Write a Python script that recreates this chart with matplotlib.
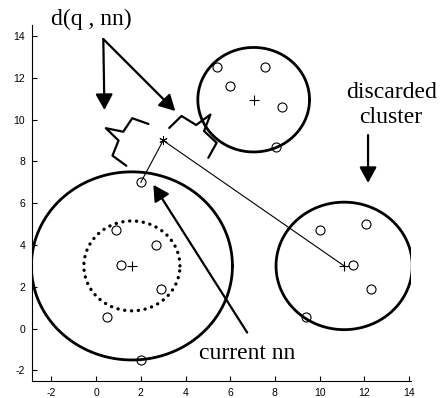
import numpy as np
import matplotlib.pyplot as plt

plt.rcParams['axes.unicode_minus'] = False

# clusters: centre x, centre y, radius
cluster_x = [1.6, 7.05, 11.1]
cluster_y = [3.0, 10.95, 3.0]
cluster_r = [4.5, 2.5, 3.05]
inner_r = 2.15  # dotted circle of the first cluster

# data points
pts_x = [0.9, 2.7, 1.1, 2.9, 0.5, 2.0, 2.0,
         5.4, 6.0, 7.55, 8.3, 8.05,
         10.0, 12.1, 11.5, 12.3, 9.4]
pts_y = [4.7, 4.0, 3.05, 1.9, 0.55, -1.5, 7.0,
         12.5, 11.6, 12.5, 10.6, 8.7,
         4.7, 5.0, 3.05, 1.9, 0.55]

query = (3.0, 9.0)
nn = (2.0, 7.0)

# braces marking d(q, nn): end points and side of the tip
brace_a = [(2.34, 9.79), (3.27, 9.60)]
brace_b = [(1.35, 7.79), (5.02, 8.17)]
brace_side = [-1, 1]

xticks = list(range(-2, 15, 2))
yticks = list(range(-2, 15, 2))

SX, SY = 22.375, 20.94  # pixels per data unit, keeps brace corners square


def brace(p0, p1, side, h=17.0):
    x0, y0 = p0[0] * SX, p0[1] * SY
    x1, y1 = p1[0] * SX, p1[1] * SY
    d = np.array([x1 - x0, y1 - y0])
    L = np.hypot(*d)
    u = d / L
    n = np.array([-u[1], u[0]]) * side
    loc = [(0, 0), (2.5, h), (L / 2 - 5, 1.1 * h), (L / 2, 2.1 * h),
           (L / 2 + 5, 1.1 * h), (L - 2.5, h), (L, 0)]
    xs, ys = [], []
    for a, p in loc:
        q = np.array([x0, y0]) + a * u + p * n
        xs.append(q[0] / SX)
        ys.append(q[1] / SY)
    return xs, ys


fig = plt.figure(figsize=(4.45, 3.98), dpi=100)
ax = fig.add_axes([0.072, 0.043, 0.852, 0.894])

t = np.linspace(0, 2 * np.pi, 400)
for cx, cy, r in zip(cluster_x, cluster_y, cluster_r):
    ax.plot(cx + r * np.cos(t), cy + r * np.sin(t), color='k', lw=2.0)
ax.plot(cluster_x[0] + inner_r * np.cos(t), cluster_y[0] + inner_r * np.sin(t),
        color='k', lw=2.4, ls=(0, (0.05, 2.0)), dash_capstyle='round')
ax.plot(cluster_x, cluster_y, '+', color='k', ms=6.5, mew=0.8)

ax.plot(pts_x, pts_y, 'o', mfc='none', mec='k', ms=6.5, mew=0.8)

# lines from query to nn and to the discarded cluster centre
ax.plot([query[0], nn[0]], [query[1], nn[1]], color='k', lw=0.8)
ax.plot([query[0], cluster_x[2]], [query[1], cluster_y[2]], color='k', lw=0.8)
ax.plot(*query, marker=(6, 2, 0), color='k', ms=6, mew=0.7)

for a, b, s in zip(brace_a, brace_b, brace_side):
    bx, by = brace(a, b, s)
    ax.plot(bx, by, color='k', lw=1.6, solid_joinstyle='round',
            solid_capstyle='round', clip_on=False)

arrow = dict(arrowstyle='-|>,head_length=0.95,head_width=0.52', lw=1.6, color='k',
             shrinkA=0, shrinkB=0)
ax.annotate('', xy=(0.37, 10.46), xytext=(0.32, 13.85), arrowprops=arrow,
            annotation_clip=False)
ax.annotate('', xy=(3.54, 10.41), xytext=(0.32, 13.85), arrowprops=arrow,
            annotation_clip=False)
ax.annotate('', xy=(12.17, 6.97), xytext=(12.17, 9.26), arrowprops=arrow,
            annotation_clip=False)
ax.annotate('', xy=(2.56, 6.88), xytext=(6.76, -0.19), arrowprops=arrow,
            annotation_clip=False)

serif = 'Liberation Serif'
ax.text(-0.2, 14.52, 'd(q , nn)', family=serif, fontsize=17, ha='center',
        va='baseline', clip_on=False)
ax.text(13.2, 9.84, 'discarded\ncluster', family=serif, fontsize=17, ha='center',
        va='baseline', linespacing=1.25, clip_on=False)
ax.text(6.75, -1.43, 'current nn', family=serif, fontsize=17, ha='center',
        va='baseline', clip_on=False)

ax.set_xlim(-2.87, 14.1)
ax.set_ylim(-2.5, 14.52)
ax.set_xticks(xticks)
ax.set_yticks(yticks)
ax.spines['top'].set_visible(False)
ax.spines['right'].set_visible(False)
for s in ('left', 'bottom'):
    ax.spines[s].set_linewidth(0.8)
ax.tick_params(direction='in', length=3.5, width=0.8, labelsize=7.5, pad=5)
for lab in ax.get_xticklabels() + ax.get_yticklabels():
    lab.set_family('Liberation Sans')

fig.savefig('out.png', dpi=100)
